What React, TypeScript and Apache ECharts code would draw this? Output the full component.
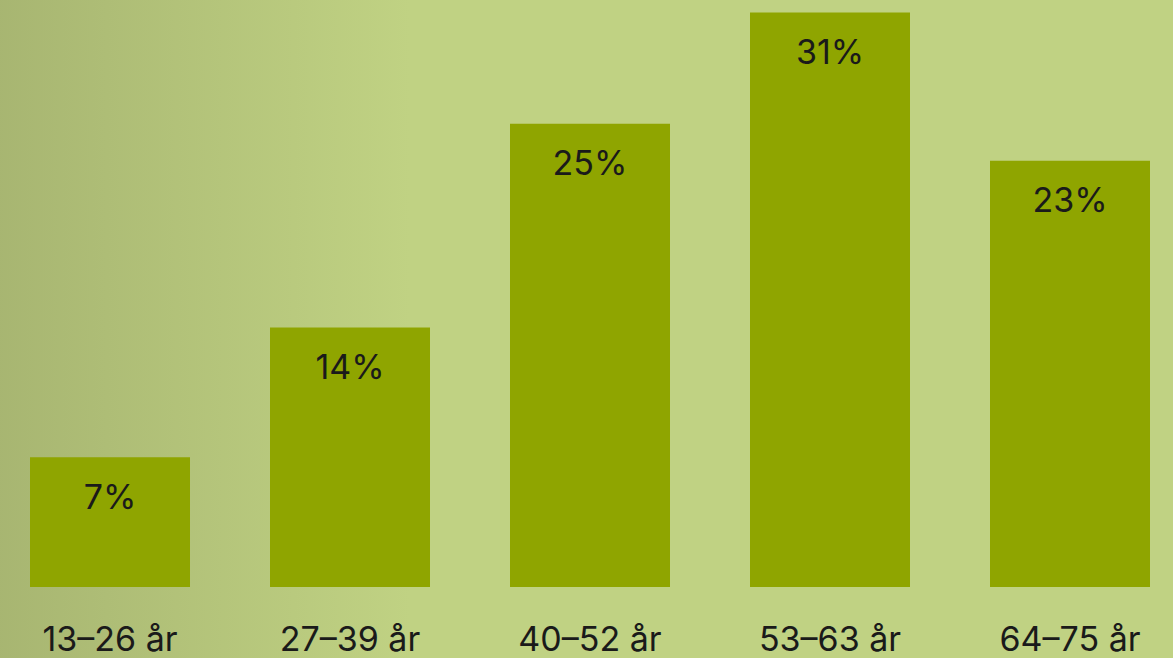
import React, { useEffect, useRef } from "react";
import * as echarts from "echarts";

const categories = ["13–26 år", "27–39 år", "40–52 år", "53–63 år", "64–75 år"];
const values = [7, 14, 25, 31, 23];

export default function App() {
  const ref = useRef<HTMLDivElement>(null);
  useEffect(() => {
    if (!ref.current) return;
    const chart = echarts.init(ref.current, null, { renderer: "svg" });
    chart.setOption({
      animation: false,
      backgroundColor: {
        type: "linear",
        x: 0, y: 0, x2: 1, y2: 0,
        colorStops: [
          { offset: 0, color: "#a7b571" },
          { offset: 0.35, color: "#c0d283" },
          { offset: 1, color: "#c0d283" },
        ],
      },
      grid: { left: 0, right: 0, top: 12.5, bottom: 71, containLabel: false },
      xAxis: {
        type: "category",
        data: categories,
        axisLine: { show: false },
        axisTick: { show: false },
        axisLabel: {
          color: "#1a1a1a",
          fontFamily: "Inter",
          fontSize: 34,
          margin: 34,
        },
      },
      yAxis: {
        type: "value",
        min: 0,
        max: 31,
        show: false,
        splitLine: { show: false },
      },
      series: [
        {
          type: "bar",
          data: values,
          barWidth: 160,
          itemStyle: { color: "#8fa500" },
          label: {
            show: true,
            position: "insideTop",
            distance: 22,
            formatter: "{c}%",
            color: "#1a1a1a",
            fontFamily: "Inter",
            fontSize: 34,
          },
        },
      ],
    });
    return () => chart.dispose();
  }, []);
  return (
    <div style={{ position: "absolute", left: 0, top: 0, width: 1173, height: 658, overflow: "hidden" }}>
      <div
        ref={ref}
        style={{ position: "absolute", left: -10, top: 0, width: 1200, height: 658 }}
      />
    </div>
  );
}
